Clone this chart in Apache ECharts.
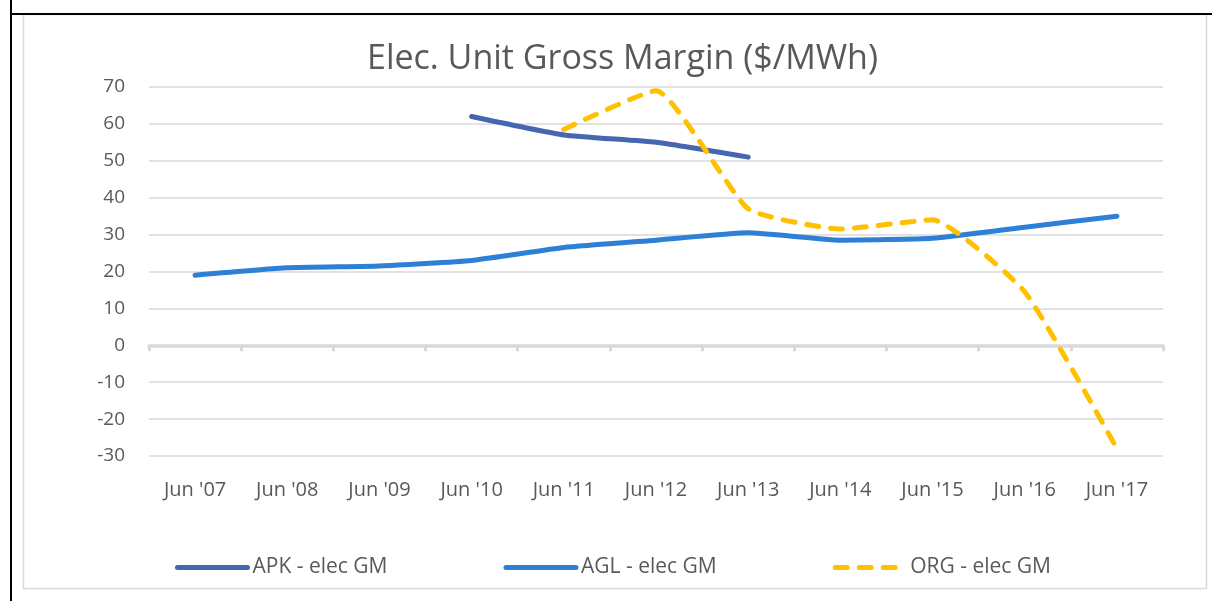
<!DOCTYPE html>
<html>
<head>
<meta charset="utf-8">
<script src="https://cdn.jsdelivr.net/npm/echarts@6/dist/echarts.min.js"></script>
<style>
  html, body { margin: 0; padding: 0; background: #fff; }
  #chart { width: 1212px; height: 601px; }
</style>
</head>
<body>
<div id="chart"></div>
<script>
// categories and values
const categories = ["Jun '07", "Jun '08", "Jun '09", "Jun '10", "Jun '11", "Jun '12",
  "Jun '13", "Jun '14", "Jun '15", "Jun '16", "Jun '17"]
const apk = [null, null, null, 62, 57, 55, 51, null, null, null, null]
const agl = [19, 21, 21.5, 23, 26.5, 28.5, 30.5, 28.5, 29, 32, 35]
const org = [null, null, null, null, 58.5, 69, 37, 31.5, 34, 14.5, -28]
const yTicks = { min: -30, max: 70, step: 10 }

const font = '"Open Sans", Lato, sans-serif'
const grey = '#595959'

let myChart = echarts.init(document.getElementById('chart'))

let option = {
  animation: false,
  title: {
    text: 'Elec. Unit Gross Margin ($/MWh)',
    left: 362,
    top: 37,
    textStyle: { fontFamily: font, fontSize: 34, fontWeight: 'normal', color: grey }
  },
  graphic: [
    // outer black frame (left + top) and inner grey chart border
    { type: 'rect', shape: { x: 23.5, y: 14.5, width: 1183, height: 574 },
      style: { fill: 'none', stroke: '#d9d9d9', lineWidth: 1.5 } },
    { type: 'line', shape: { x1: 11, y1: 0, x2: 11, y2: 601 },
      style: { stroke: '#000', lineWidth: 2 } },
    { type: 'line', shape: { x1: 10, y1: 14, x2: 1212, y2: 14 },
      style: { stroke: '#000', lineWidth: 2 } }
  ],
  legend: {
    bottom: 18,
    left: 170,
    itemWidth: 70,
    itemHeight: 14,
    itemGap: 116,
    itemStyle: { opacity: 0 },
    lineStyle: { width: 5, cap: 'round' },
    textStyle: { fontFamily: font, fontSize: 21, color: grey },
    data: ['APK - elec GM', 'AGL - elec GM', 'ORG - elec GM']
  },
  grid: { left: 149, right: 49, top: 87, bottom: 145 },
  xAxis: [
    {
      type: 'category',
      data: categories,
      position: 'bottom',
      axisLine: { show: false, onZero: false },
      axisTick: { show: false },
      axisLabel: { fontFamily: font, fontSize: 20, color: grey, margin: 24 }
    },
    {
      type: 'category',
      data: categories,
      position: 'bottom',
      axisLine: { show: true, onZero: true, lineStyle: { color: '#d9d9d9', width: 3.5 } },
      axisTick: { show: true, length: 6, lineStyle: { color: '#d9d9d9', width: 3 } },
      axisLabel: { show: false }
    }
  ],
  yAxis: {
    type: 'value',
    min: yTicks.min,
    max: yTicks.max,
    interval: yTicks.step,
    axisLine: { show: false },
    axisTick: { show: false },
    axisLabel: { fontFamily: font, fontSize: 19, color: grey, margin: 24 },
    splitLine: { lineStyle: { color: '#d9d9d9', width: 1.5 } }
  },
  series: [
    {
      name: 'APK - elec GM',
      type: 'line',
      data: apk,
      symbol: 'none',
      smooth: 0.15,
      color: '#4666b0',
      lineStyle: { width: 5, cap: 'round', join: 'round' }
    },
    {
      name: 'AGL - elec GM',
      type: 'line',
      data: agl,
      symbol: 'none',
      smooth: 0.15,
      color: '#2e7fd6',
      lineStyle: { width: 5, cap: 'round', join: 'round' }
    },
    {
      name: 'ORG - elec GM',
      type: 'line',
      data: org,
      symbol: 'none',
      smooth: 0.15,
      color: '#ffc000',
      lineStyle: { width: 5, type: [12, 12], cap: 'round', join: 'round' }
    }
  ]
}

myChart.setOption(option, true)
</script>
</body>
</html>
